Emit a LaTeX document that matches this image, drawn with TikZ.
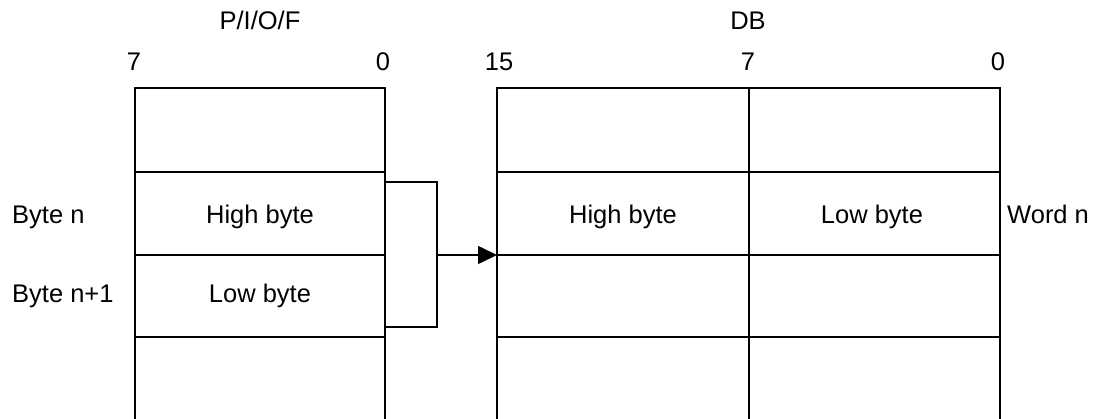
\documentclass[tikz,border=0pt]{standalone}
\usepackage{fontspec}
\setmainfont{Liberation Sans}
\usetikzlibrary{arrows.meta}
\begin{document}
\begin{tikzpicture}[x=1pt,y=-1pt,
  grid/.style={line width=1.6pt,line cap=rect},
  lbl/.style={inner sep=0pt,anchor=base,font=\fontsize{25.5}{30}\selectfont},
  lblw/.style={inner sep=0pt,anchor=base west,font=\fontsize{25.5}{30}\selectfont},
  conn/.style={line width=1.6pt},
  arr/.style={line width=1.6pt,-{Triangle[length=19pt,width=18pt]}}]
\useasboundingbox (0,0) rectangle (1095,418);
% left table (P/I/O/F)
\draw[grid] (135,418) -- (135,88) -- (385,88) -- (385,418);
\draw[grid] (135,172) -- (385,172);
\draw[grid] (135,255) -- (385,255);
\draw[grid] (135,337) -- (385,337);
% right table (DB)
\draw[grid] (497,418) -- (497,88) -- (1000,88) -- (1000,418);
\draw[grid] (749,88) -- (749,418);
\draw[grid] (497,172) -- (1000,172);
\draw[grid] (497,255) -- (1000,255);
\draw[grid] (497,337) -- (1000,337);
% headers
\node[lbl] (tpiof) at (260,29) {P/I/O/F};
\node[lbl] (tdb) at (748,29) {DB};
\node[lbl] (b7l) at (134,70) {7};
\node[lbl] (b0l) at (383,70) {0};
\node[lbl] (b15) at (499,70) {15};
\node[lbl] (b7r) at (748,70) {7};
\node[lbl] (b0r) at (998,70) {0};
% cell texts
\node[lbl] (lhigh) at (260,223) {High byte};
\node[lbl] (llow) at (260,302) {Low byte};
\node[lbl] (rhigh) at (623,223) {High byte};
\node[lbl] (rlow) at (872,223) {Low byte};
% side labels
\node[lblw] (byten) at (12,223) {Byte n};
\node[lblw] (byten1) at (12,302) {Byte n+1};
\node[lblw] (wordn) at (1007,223) {Word n};
% bracket and arrow
\coordinate (bt) at (385,182);
\coordinate (bb) at (385,327);
\coordinate (brt) at (437,182);
\coordinate (brb) at (437,327);
\coordinate (bm) at (437,255);
\coordinate (dbin) at (497,255);
\draw[conn] (bt) -- (brt) -- (brb) -- (bb);
\draw[arr] (bm) -- (dbin);
\end{tikzpicture}
\end{document}
